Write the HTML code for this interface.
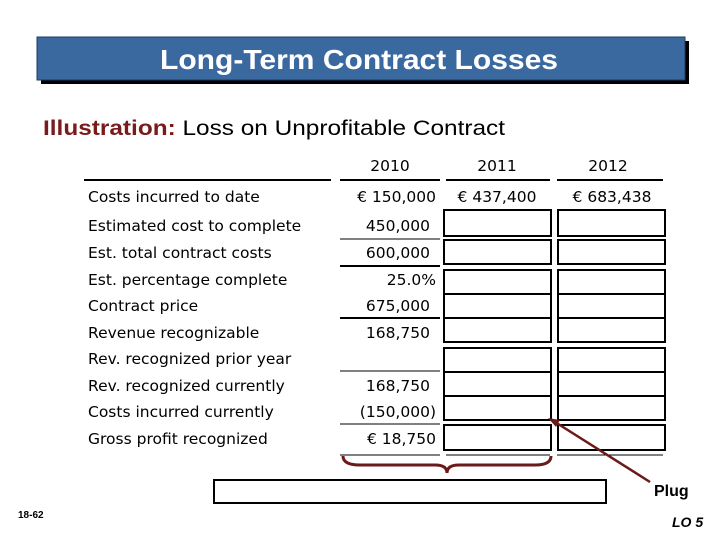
<!DOCTYPE html>
<html><head><meta charset="utf-8"><style>
body{margin:0;background:#fff;}
svg{display:block;}
.t{font-family:"DejaVu Sans","Liberation Sans",sans-serif;font-size:15.5px;fill:#000;}
</style></head><body>
<svg width="720" height="540" viewBox="0 0 720 540">
<rect x="41" y="41" width="648" height="43" fill="#000"/>
<rect x="37" y="37" width="648" height="43" fill="#3a69a0" stroke="#1c3a60" stroke-width="1"/>
<text x="160" y="69" textLength="398" lengthAdjust="spacingAndGlyphs" font-family="Liberation Sans,sans-serif" font-size="28" font-weight="bold" fill="#fff">Long-Term Contract Losses</text>
<text x="43" y="135" textLength="462" lengthAdjust="spacingAndGlyphs" font-family="Liberation Sans,sans-serif" font-size="21"><tspan fill="#7a1a1a" font-weight="bold">Illustration:</tspan><tspan fill="#000">  Loss on Unprofitable Contract</tspan></text>

<g class="t">
<text x="390" y="171" text-anchor="middle">2010</text>
<text x="497" y="171" text-anchor="middle">2011</text>
<text x="608" y="171" text-anchor="middle">2012</text>
</g>
<g stroke="#000" stroke-width="2">
<line x1="84" y1="180" x2="331" y2="180"/><line x1="340" y1="180" x2="440" y2="180"/>
<line x1="446" y1="180" x2="550" y2="180"/><line x1="557" y1="180" x2="663" y2="180"/>
</g>
<g class="t">
<text x="88" y="202">Costs incurred to date</text>
<text x="88" y="231">Estimated cost to complete</text>
<text x="88" y="258">Est. total contract costs</text>
<text x="88" y="285">Est. percentage complete</text>
<text x="88" y="311">Contract price</text>
<text x="88" y="338">Revenue recognizable</text>
<text x="88" y="364">Rev. recognized prior year</text>
<text x="88" y="391">Rev. recognized currently</text>
<text x="88" y="417">Costs incurred currently</text>
<text x="88" y="444">Gross profit recognized</text>
</g>
<g class="t" text-anchor="end">
<text x="436" y="202">€ 150,000</text>
<text x="430" y="231">450,000</text>
<text x="430" y="258">600,000</text>
<text x="436" y="285">25.0%</text>
<text x="430" y="311">675,000</text>
<text x="430" y="338">168,750</text>
<text x="430" y="391">168,750</text>
<text x="436" y="417">(150,000)</text>
<text x="436" y="444">€ 18,750</text>
</g>
<g class="t" text-anchor="middle">
<text x="497" y="202">€ 437,400</text>
<text x="612" y="202">€ 683,438</text>
</g>
<g stroke="#000" fill="none">
<line x1="340" y1="239" x2="440" y2="239" stroke-width="1"/>
<line x1="340" y1="266" x2="440" y2="266" stroke-width="2"/>
<line x1="340" y1="318" x2="440" y2="318" stroke-width="2"/>
<line x1="340" y1="371" x2="440" y2="371" stroke-width="1"/>
<line x1="340" y1="424" x2="440" y2="424" stroke-width="1"/>
<line x1="340" y1="455" x2="440" y2="455" stroke-width="1"/>
<line x1="446" y1="455" x2="550" y2="455" stroke-width="1"/>
<line x1="557" y1="455" x2="663" y2="455" stroke-width="1"/>
</g>
<g stroke="#000" stroke-width="2" fill="#fff">
<rect x="444" y="210" width="107" height="26"/><rect x="558" y="210" width="107" height="26"/>
<rect x="444" y="240" width="107" height="24"/><rect x="558" y="240" width="107" height="24"/>
<rect x="444" y="270" width="107" height="24"/><rect x="558" y="270" width="107" height="24"/>
<rect x="444" y="294" width="107" height="24"/><rect x="558" y="294" width="107" height="24"/>
<rect x="444" y="318" width="107" height="24"/><rect x="558" y="318" width="107" height="24"/>
<rect x="444" y="348" width="107" height="24"/><rect x="558" y="348" width="107" height="24"/>
<rect x="444" y="372" width="107" height="24"/><rect x="558" y="372" width="107" height="24"/>
<rect x="444" y="396" width="107" height="24"/><rect x="558" y="396" width="107" height="24"/>
<rect x="444" y="425" width="107" height="25"/><rect x="558" y="425" width="107" height="25"/>
</g>
<path d="M343 456 Q343 465 360 465 L435 465 Q447 465 447 473 Q447 465 459 465 L535 465 Q551 465 551 456" stroke="#6b1a1a" stroke-width="3" fill="none"/>
<rect x="214" y="480" width="392" height="23" fill="#fff" stroke="#000" stroke-width="2"/>
<line x1="650" y1="482" x2="555" y2="422" stroke="#6b1a1a" stroke-width="2.5"/>
<polygon points="548,418 560,420 556,427" fill="#6b1a1a"/>
<text x="654" y="496" font-family="Liberation Sans,sans-serif" font-size="16" font-weight="bold">Plug</text>
<text x="18" y="518" font-family="Liberation Sans,sans-serif" font-size="10" font-weight="bold">18-62</text>
<text x="672" y="527" font-family="Liberation Sans,sans-serif" font-size="14" font-weight="bold" font-style="italic">LO 5</text>
</svg>
</body></html>
